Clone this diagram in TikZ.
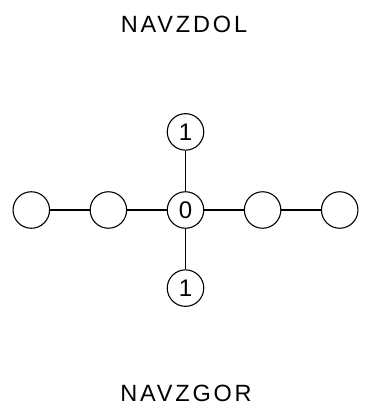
\documentclass[tikz,border=0pt]{standalone}
\usepackage{fontspec}
\setmainfont{Liberation Sans}
\usetikzlibrary{positioning}

\begin{document}
\begin{tikzpicture}[
    x=1pt, y=1pt,
    node distance=39.5pt and 39.5pt,
    vert/.style={draw, circle, line width=1.1pt, minimum size=36.5pt, inner sep=0pt, font=\fontsize{24}{26}\selectfont},
    edge/.style={line width=1.1pt},
    title/.style={anchor=base, inner sep=0pt, font=\fontsize{23.5}{26}\selectfont\addfontfeature{LetterSpace=12}}
]
\useasboundingbox (0,0) rectangle (371,-414);

\node[vert] (c) at (185.5,-210) {0};
\node[vert, above=40.5pt of c] (t) {1};
\node[vert, below=40.5pt of c] (b) {1};
\node[vert, left=of c] (l1) {};
\node[vert, left=of l1] (l2) {};
\node[vert, right=of c] (r1) {};
\node[vert, right=of r1] (r2) {};

\node[title] (top) at (184,-33) {NAVZDOL};
\node[title] (bot) at (186,-401) {NAVZGOR};

\draw[edge] (c) -- (t);
\draw[edge] (c) -- (b);
\draw[edge] (c) -- (l1);
\draw[edge] (l1) -- (l2);
\draw[edge] (c) -- (r1);
\draw[edge] (r1) -- (r2);
\end{tikzpicture}
\end{document}
